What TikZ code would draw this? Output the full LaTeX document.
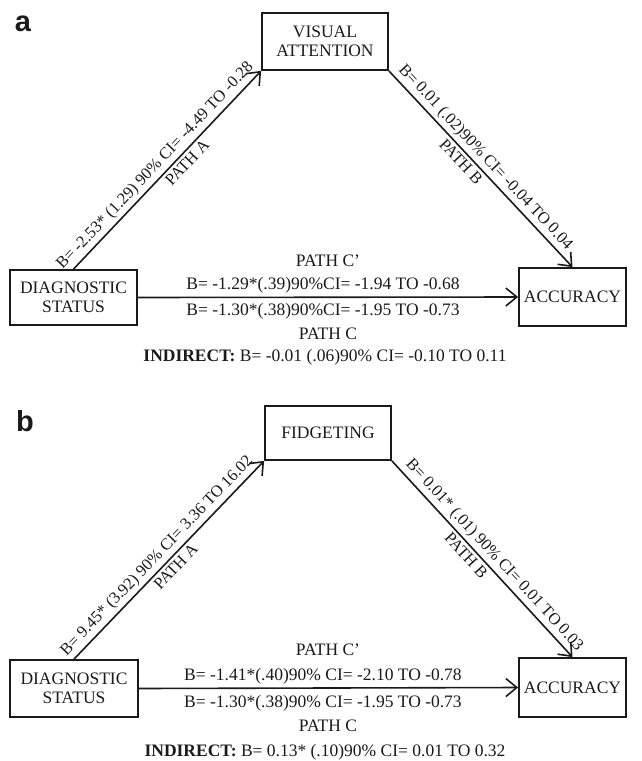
\documentclass[tikz,border=0pt]{standalone}
\usepackage{fontspec}
\setmainfont{Liberation Serif}
\newfontfamily\panelfont{Liberation Sans}
\usetikzlibrary{arrows.meta,positioning}
\definecolor{ink}{HTML}{1A1A1A}
\newcommand{\figtxt}{\fontsize{17.5}{19.5}\selectfont}
\newcommand{\slanttxt}{\fontsize{16.5}{18}\selectfont}
\tikzset{
  varbox/.style={draw=ink,line width=1.8pt,align=center,inner sep=0pt,
                 text=ink,font=\figtxt},
  patharr/.style={-{Straight Barb[length=11pt,width=18pt]},line width=1.6pt,
                  draw=ink},
  coef/.style={font=\figtxt,text=ink,inner sep=2pt},
  slantcoef/.style={font=\slanttxt,text=ink,inner sep=3pt,sloped},
  panellabel/.style={font=\panelfont\bfseries\fontsize{29}{31}\selectfont,text=ink}
}

\begin{document}
\begin{tikzpicture}[x=1pt,y=-1pt]
    \useasboundingbox (0,0) rectangle (641,761);
    % panel a
    \node[panellabel] (lblA) at (23,24) {a};
    \node[varbox,minimum width=126pt,minimum height=57pt] (visA) at (325,41.5)
      {VISUAL\\ATTENTION};
    \node[varbox,minimum width=127pt,minimum height=55pt] (diagA) at (73.5,297.5)
      {DIAGNOSTIC\\STATUS};
    \node[varbox,minimum width=107pt,minimum height=58pt] (accA) at (572.5,297)
      {ACCURACY};
    \draw[patharr] (diagA.north) -- (visA.south west)
      node[slantcoef,above,pos=0.48] (coefaA) {B= -2.53* (1.29) 90\% CI= -4.49 TO -0.28}
      node[slantcoef,below,pos=0.57] (nameaA) {PATH A};
    \draw[patharr] (visA.south east) -- (accA.north)
      node[slantcoef,above,pos=0.48] (coefbA) {B= 0.01 (.02)90\% CI= -0.04 TO 0.04}
      node[slantcoef,below,pos=0.43] (namebA) {PATH B};
    \draw[patharr] (diagA.east) -- (accA.west);
    \node[coef] (namecpA) at (328,261) {PATH C'};
    \node[coef] (coefcpA) at (323,285) {B= -1.29*(.39)90\%CI= -1.94 TO -0.68};
    \node[coef] (coefcA) at (323,311) {B= -1.30*(.38)90\%CI= -1.95 TO -0.73};
    \node[coef] (namecA) at (328,334) {PATH C};
    \node[coef] (indA) at (325,357) {\textbf{INDIRECT:} B= -0.01 (.06)90\% CI= -0.10 TO 0.11};
    % panel b
    \node[panellabel] (lblB) at (25,421) {b};
    \node[varbox,minimum width=126pt,minimum height=54pt] (fidB) at (328,433)
      {FIDGETING};
    \node[varbox,minimum width=128pt,minimum height=57pt] (diagB) at (74,688.5)
      {DIAGNOSTIC\\STATUS};
    \node[varbox,minimum width=107pt,minimum height=59pt] (accB) at (572.5,687.5)
      {ACCURACY};
    \draw[patharr] (diagB.north) -- (fidB.south west)
      node[slantcoef,above,pos=0.48] (coefaB) {B= 9.45* (3.92) 90\% CI= 3.36 TO 16.02}
      node[slantcoef,below,pos=0.5] (nameaB) {PATH A};
    \draw[patharr] (fidB.south east) -- (accB.north)
      node[slantcoef,above,pos=0.52] (coefbB) {B= 0.01* (.01) 90\% CI= 0.01 TO 0.03}
      node[slantcoef,below,pos=0.45] (namebB) {PATH B};
    \draw[patharr] (diagB.east) -- (accB.west);
    \node[coef] (namecpB) at (328,650) {PATH C'};
    \node[coef] (coefcpB) at (323,676) {B= -1.41*(.40)90\% CI= -2.10 TO -0.78};
    \node[coef] (coefcB) at (323,703) {B= -1.30*(.38)90\% CI= -1.95 TO -0.73};
    \node[coef] (namecB) at (328,726) {PATH C};
    \node[coef] (indB) at (325,752) {\textbf{INDIRECT:} B= 0.13* (.10)90\% CI= 0.01 TO 0.32};
  \end{tikzpicture}
\end{document}
